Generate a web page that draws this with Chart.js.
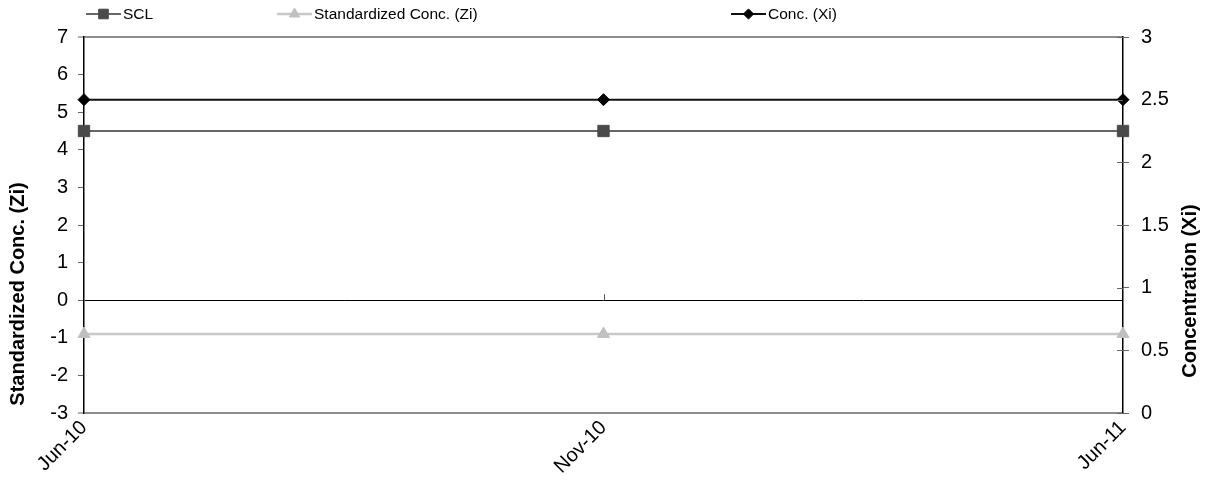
<!DOCTYPE html>
<html><head><meta charset="utf-8">
<script src="https://cdn.jsdelivr.net/npm/chart.js@4"></script>
<style>html,body{margin:0;padding:0;background:#fff;overflow:hidden}#wrap{width:1207px;height:497px}</style>
</head><body><div id="wrap"><canvas id="c" width="1207" height="497"></canvas></div>
<script>
const categories = ['Jun-10', 'Nov-10', 'Jun-11'];
const sclValues = [4.5, 4.5, 4.5];
const ziValues = [-0.9, -0.9, -0.9];
const xiValues = [2.5, 2.5, 2.5];
const seriesNames = ['SCL', 'Standardized Conc. (Zi)', 'Conc. (Xi)'];
const leftAxisTitle = 'Standardized Conc. (Zi)';
const rightAxisTitle = 'Concentration (Xi)';
const leftMin = -3, leftMax = 7, leftStep = 1;
const rightMin = 0, rightMax = 3, rightStep = 0.5;

const FONT = '"Liberation Sans", Arial, sans-serif';
const legendX = [86, 277, 731];

function legendMarker(ctx, ds, cx, cy) {
  ctx.fillStyle = ds.pointBackgroundColor;
  ctx.strokeStyle = ds.pointBorderColor;
  ctx.lineWidth = 1;
  Chart.helpers.drawPoint(ctx, {pointStyle: ds.pointStyle, radius: ds.pointRadius * 0.85, borderWidth: 1, rotation: 0}, cx, cy);
}

const extras = {
  id: 'extras',
  afterDraw(chart) {
    const ctx = chart.ctx;
    const ca = chart.chartArea;
    const y = chart.scales.y, y1 = chart.scales.y1, x = chart.scales.x;
    ctx.save();
    // category tick marks on the zero line
    const y0 = y.getPixelForValue(0);
    ctx.strokeStyle = '#555'; ctx.lineWidth = 1;
    for (let i = 1; i < categories.length - 1; i++) {
      const px = Math.round(x.getPixelForValue(i)) + 0.5;
      ctx.beginPath(); ctx.moveTo(px, y0); ctx.lineTo(px, y0 - 6); ctx.stroke();
    }
    // inner half of the right axis tick marks
    ctx.strokeStyle = '#666';
    y1.ticks.forEach(t => {
      const py = Math.round(y1.getPixelForValue(t.value)) + 0.5;
      ctx.beginPath(); ctx.moveTo(ca.right - 6, py); ctx.lineTo(ca.right, py); ctx.stroke();
    });
    // axis titles
    ctx.fillStyle = '#000';
    ctx.font = 'bold 20px ' + FONT;
    ctx.textAlign = 'center'; ctx.textBaseline = 'middle';
    ctx.save(); ctx.translate(18, 294); ctx.rotate(-Math.PI / 2); ctx.fillText(leftAxisTitle, 0, 0); ctx.restore();
    ctx.save(); ctx.translate(1190, 291); ctx.rotate(-Math.PI / 2); ctx.fillText(rightAxisTitle, 0, 0); ctx.restore();
    // legend
    ctx.font = '15.5px ' + FONT;
    ctx.textAlign = 'left'; ctx.textBaseline = 'middle';
    chart.data.datasets.forEach((ds, i) => {
      const lx = legendX[i], ly = 14;
      ctx.strokeStyle = ds.borderColor; ctx.lineWidth = ds.borderWidth;
      ctx.beginPath(); ctx.moveTo(lx, ly); ctx.lineTo(lx + 35, ly); ctx.stroke();
      legendMarker(ctx, ds, lx + 17.5, ly);
      ctx.fillStyle = '#000';
      ctx.fillText(ds.label, lx + 37, ly + 1);
    });
    ctx.restore();
  }
};

new Chart(document.getElementById('c'), {
  type: 'line',
  data: {
    labels: categories,
    datasets: [
      {label: seriesNames[0], data: sclValues, yAxisID: 'y', borderColor: '#666666', borderWidth: 2,
       pointStyle: 'rect', pointRadius: 8, pointBackgroundColor: '#4a4a4a', pointBorderColor: '#4a4a4a', pointBorderWidth: 1, order: 2},
      {label: seriesNames[1], data: ziValues, yAxisID: 'y', borderColor: '#c8c8c8', borderWidth: 2.5,
       pointStyle: 'triangle', pointRadius: 7, pointBackgroundColor: '#c0c0c0', pointBorderColor: '#c0c0c0', pointBorderWidth: 1, order: 3},
      {label: seriesNames[2], data: xiValues, yAxisID: 'y1', borderColor: '#111111', borderWidth: 2,
       pointStyle: 'rectRot', pointRadius: 6, pointBackgroundColor: '#000', pointBorderColor: '#000', pointBorderWidth: 1, order: 1}
    ]
  },
  options: {
    responsive: false,
    devicePixelRatio: 1,
    animation: false,
    layout: {padding: {top: 37, left: 0, right: 0, bottom: 0}},
    plugins: {legend: {display: false}, tooltip: {enabled: false}},
    elements: {line: {tension: 0}},
    scales: {
      x: {
        type: 'category', offset: false,
        grid: {display: false, drawTicks: false, tickLength: 0},
        border: {display: false},
        ticks: {color: '#000', font: {family: FONT, size: 20}, maxRotation: 45, minRotation: 45, padding: 3, autoSkip: false},
        afterFit: s => { s.height = 84; }
      },
      y: {
        position: 'left', min: leftMin, max: leftMax,
        ticks: {stepSize: leftStep, color: '#000', font: {family: FONT, size: 20}, padding: 10},
        grid: {
          color: c => c.tick.value === 0 ? '#000' : (c.tick.value === leftMax || c.tick.value === leftMin ? '#8c8c8c' : 'rgba(0,0,0,0)'),
          lineWidth: c => (c.tick.value === leftMax || c.tick.value === leftMin) ? 2 : 1,
          tickColor: '#666', tickLength: 6, tickWidth: 1
        },
        border: {color: '#000', width: 1.5},
        afterFit: s => { s.width = 84; }
      },
      y1: {
        position: 'right', min: rightMin, max: rightMax,
        ticks: {stepSize: rightStep, color: '#000', font: {family: FONT, size: 20}, padding: 12,
                callback: v => String(Number(v))},
        grid: {drawOnChartArea: false, tickColor: '#666', tickLength: 6, tickWidth: 1},
        border: {color: '#000', width: 1.5},
        afterFit: s => { s.width = 84; }
      }
    }
  },
  plugins: [extras]
});
</script>
</body></html>
